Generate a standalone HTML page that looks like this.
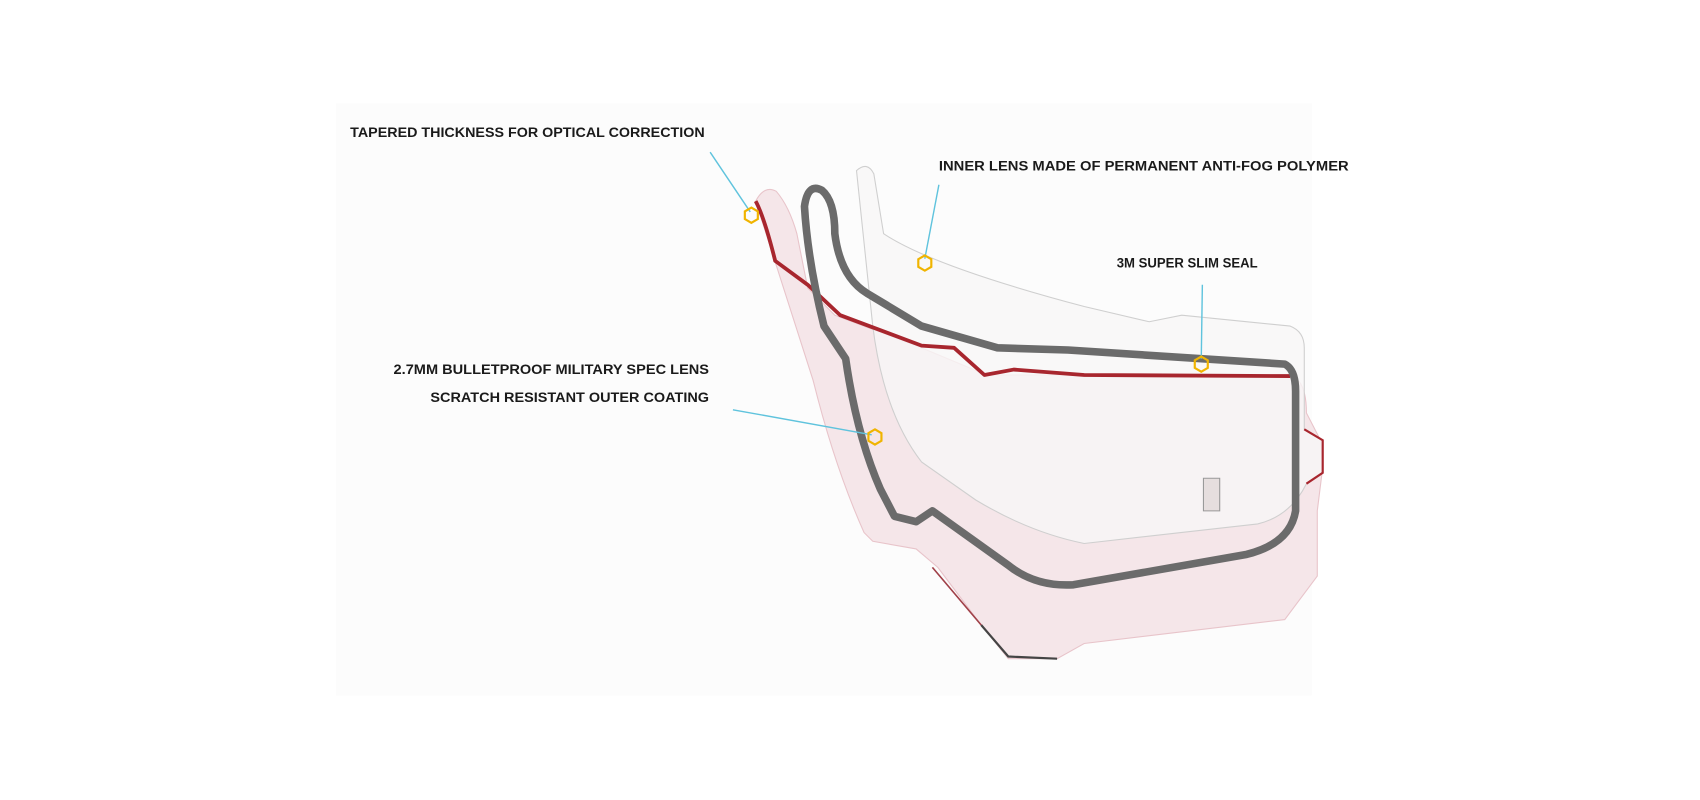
<!DOCTYPE html>
<html><head><meta charset="utf-8"><style>
html,body{margin:0;padding:0;background:#fff;width:1700px;height:800px;overflow:hidden}
svg{display:block}
text{font-family:"Liberation Sans",sans-serif;font-weight:bold;font-size:13px;fill:#1a1a1a}
</style></head><body>
<svg width="1700" height="800" viewBox="0 0 1568 736" preserveAspectRatio="none">
<rect x="0" y="0" width="1568" height="736" fill="#fff"/>
<rect x="310" y="95" width="900" height="545" fill="#fcfcfc"/>
<!-- outer lens -->
<path d="M697,185 Q705,170 716,176 Q728,190 735,215 L745,265 L770,290 L850,320 L910,345 L1190,345 Q1205,350 1205,380 L1218,405 L1220,430 L1215,470 L1215,530 L1185,570 L1000,592 L975,606 L930,606 L905,575 L865,522 L845,505 L805,498 L797,490 Q770,430 750,350 Z" fill="#f5e6e9" stroke="#e8c4ca" stroke-width="1"/>
<!-- inner lens -->
<path d="M790,157 Q800,148 806,160 L815,215 Q860,245 1000,282 L1060,296 L1090,290 L1190,300 Q1203,305 1203,320 L1203,395 L1220,405 L1220,435 L1205,445 Q1190,475 1160,482 L1000,500 Q950,490 900,460 L850,425 Q815,380 805,300 Z" fill="#f7f6f6" fill-opacity="0.8" stroke="#cfcfcf" stroke-width="1"/>
<path d="M697,185 Q705,200 715,240 L745,262 L775,290 L850,318 L880,320 L908,345 L935,340 L1000,345 L1190,346" fill="none" stroke="#a8262e" stroke-width="3.5" stroke-linejoin="round"/>
<path d="M905,575 L930,604 L975,606" fill="none" stroke="#444" stroke-width="2"/>
<path d="M860,522 L905,575" fill="none" stroke="#a04048" stroke-width="1.5"/>
<!-- seal -->
<path d="M760,300 Q745,240 742,190 Q745,168 758,175 Q770,185 770,215 Q775,255 800,270 L850,300 L920,320 L985,322 L1185,335 Q1195,340 1195,360 L1195,470 Q1190,500 1150,510 L990,538 Q955,540 930,520 L860,470 L845,480 L825,475 L812,450 Q790,400 780,330 Z" fill="none" stroke="#6b6b6b" stroke-width="7" stroke-linejoin="round"/>
<path d="M1110,440 L1125,440 L1125,470 L1110,470 Z" fill="#e6dede" stroke="#999"/>
<path d="M1203,395 L1220,405 L1220,435 L1205,445" fill="none" stroke="#a8262e" stroke-width="2"/>
<!-- callout lines -->
<g stroke="#5fc3dd" stroke-width="1.3" fill="none">
<line x1="655" y1="140" x2="692" y2="195"/>
<line x1="866" y1="170" x2="853" y2="238"/>
<line x1="1109" y1="262" x2="1108" y2="330"/>
<line x1="676" y1="377" x2="804" y2="400"/>
</g>
<g stroke="#f0b400" stroke-width="2" fill="none">
<polygon points="693,191 699,194.5 699,201.5 693,205 687,201.5 687,194.5"/>
<polygon points="853,235 859,238.5 859,245.5 853,249 847,245.5 847,238.5"/>
<polygon points="1108,328 1114,331.5 1114,338.5 1108,342 1102,338.5 1102,331.5"/>
<polygon points="807,395 813,398.5 813,405.5 807,409 801,405.5 801,398.5"/>
</g>
<text x="323" y="126" textLength="327" lengthAdjust="spacingAndGlyphs">TAPERED THICKNESS FOR OPTICAL CORRECTION</text>
<text x="866" y="157" textLength="378" lengthAdjust="spacingAndGlyphs">INNER LENS MADE OF PERMANENT ANTI-FOG POLYMER</text>
<text x="1030" y="246" textLength="130" lengthAdjust="spacingAndGlyphs">3M SUPER SLIM SEAL</text>
<text x="363" y="344" textLength="291" lengthAdjust="spacingAndGlyphs">2.7MM BULLETPROOF MILITARY SPEC LENS</text>
<text x="397" y="370" textLength="257" lengthAdjust="spacingAndGlyphs">SCRATCH RESISTANT OUTER COATING</text>
</svg>
</body></html>
